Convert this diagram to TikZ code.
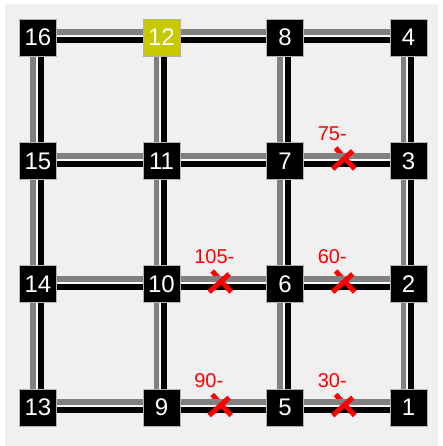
\documentclass[tikz,border=0pt]{standalone}
\usepackage{fontspec}
\setmainfont{Liberation Sans}
\usetikzlibrary{positioning,calc}
\definecolor{bgcol}{RGB}{240,240,240}
\definecolor{hilite}{RGB}{200,200,0}
\definecolor{linkgray}{RGB}{128,128,128}
\definecolor{cutred}{RGB}{255,0,0}
\pgfdeclarelayer{bg}
\pgfdeclarelayer{links}
\pgfsetlayers{bg,links,main}

\begin{document}
\begin{tikzpicture}[
    x=1pt, y=-1pt,
    router/.style={draw=gray!60, line width=0.6pt, text=white,
                   minimum size=37pt, inner sep=0pt,
                   font=\fontsize{24}{24}\selectfont},
    gap/.style={line width=1.6pt, white},
    fwd/.style={line width=5.8pt, black},
    back/.style={line width=5.8pt, linkgray},
    cut/.style={line width=5pt, cutred},
    cost/.style={text=cutred, anchor=west, inner sep=0pt,
                 font=\fontsize{20}{20}\selectfont}
  ]
  \begin{pgfonlayer}{bg}
    \fill[white] (0,0) rectangle (442,446);
    \fill[bgcol] (5,4) rectangle (438,446);
  \end{pgfonlayer}

  % routers, numbered column by column from the right
  \foreach \k/\x in {0/408.5,1/285,2/161.5,3/38}
    \foreach \r/\y in {1/407.5,2/284,3/161,4/37.5} {
      \pgfmathtruncatemacro\n{4*\k+\r}
      \ifnum\n=12 \def\col{hilite}\else\def\col{black}\fi
      \node[router, fill=\col] (r\n) at (\x,\y) {\n};
    }

  % cut points on the failed links
  \coordinate (c73) at ($(r7.center)!0.475!(r3.center)+(0,-2)$);
  \coordinate (c106) at ($(r10.center)!0.475!(r6.center)+(0,-2)$);
  \coordinate (c62) at ($(r6.center)!0.475!(r2.center)+(0,-2)$);
  \coordinate (c95) at ($(r9.center)!0.475!(r5.center)+(0,-2)$);
  \coordinate (c51) at ($(r5.center)!0.475!(r1.center)+(0,-2)$);

  \begin{pgfonlayer}{links}
    % horizontal links
    \foreach \a/\b in {16/12,12/8,8/4,15/11,11/7,7/3,14/10,10/6,6/2,13/9,9/5,5/1} {
      \draw[gap] ($(r\a.center)+(0,-1)$) -- ($(r\b.center)+(0,-1)$);
      \draw[fwd] ($(r\a.center)+(0,2.8)$) -- ($(r\b.center)+(0,2.8)$);
    }
    % vertical links
    \foreach \a/\b in {16/15,15/14,14/13,12/11,11/10,10/9,8/7,7/6,6/5,4/3,3/2,2/1} {
      \draw[gap] ($(r\a.center)+(-1,0)$) -- ($(r\b.center)+(-1,0)$);
      \draw[fwd] ($(r\a.center)+(2.8,0)$) -- ($(r\b.center)+(2.8,0)$);
    }
    \foreach \c in {c73,c106,c62,c95,c51}
      \draw[cut, shift={(\c)}] (-8,-11) -- (11,10);
    \foreach \a/\b in {16/12,12/8,8/4,15/11,11/7,7/3,14/10,10/6,6/2,13/9,9/5,5/1}
      \draw[back] ($(r\a.center)+(0,-5.2)$) -- ($(r\b.center)+(0,-5.2)$);
    \foreach \a/\b in {16/15,15/14,14/13,12/11,11/10,10/9,8/7,7/6,6/5,4/3,3/2,2/1}
      \draw[back] ($(r\a.center)+(-5,0)$) -- ($(r\b.center)+(-5,0)$);
    \foreach \c in {c73,c106,c62,c95,c51}
      \draw[cut, shift={(\c)}] (-11,10) -- (9,-8);
  \end{pgfonlayer}

  % link costs
  \node[cost] (l73) at ($(c73)+(-26,-25)$) {75-};
  \node[cost] (l106) at ($(c106)+(-26,-25)$) {105-};
  \node[cost] (l62) at ($(c62)+(-26,-25)$) {60-};
  \node[cost] (l95) at ($(c95)+(-26,-25)$) {90-};
  \node[cost] (l51) at ($(c51)+(-26,-25)$) {30-};
\end{tikzpicture}
\end{document}
